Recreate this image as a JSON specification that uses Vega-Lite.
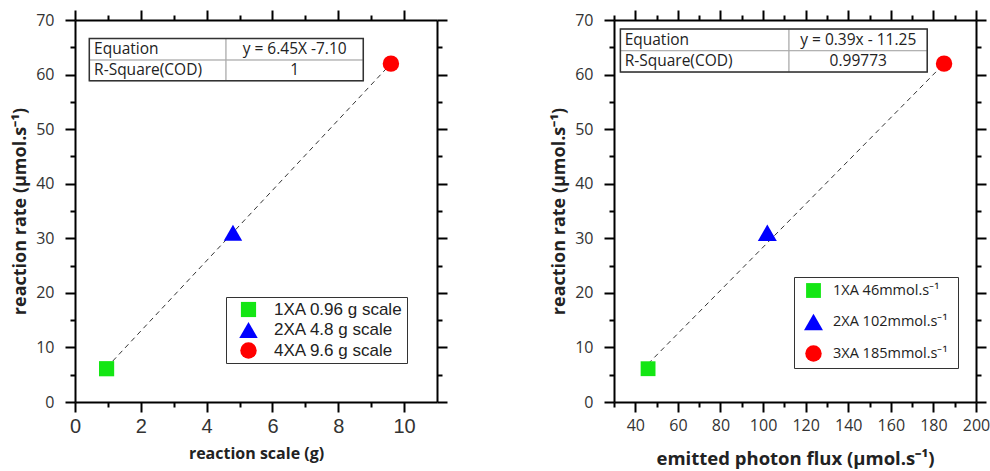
{
  "$schema": "https://vega.github.io/schema/vega-lite/v6.json",
  "background": "white",
  "padding": {"left": 11, "top": 9, "right": 5, "bottom": 5},
  "spacing": 177,
  "bounds": "flush",
  "config": {
    "view": {"stroke": null},
    "axis": {"grid": false, "domainColor": "#000", "domainWidth": 2, "tickColor": "#000", "tickWidth": 2, "labelColor": "#333", "titleColor": "#222", "labelFlush": false, "labelOverlap": false}
  },
  "datasets": {
    "ptsL": [
      {"x": 0.96, "y": 6.1, "label": "1XA 0.96 g scale"},
      {"x": 4.8, "y": 31, "label": "2XA 4.8 g scale"},
      {"x": 9.6, "y": 62, "label": "4XA 9.6 g scale"}
    ],
    "fitL": [{"x": 0.96, "y": 6.3}, {"x": 9.6, "y": 62}],
    "cellsL": [
      {"x0": 0.435, "x1": 4.59, "y0": 66.6, "y1": 62.65},
      {"x0": 4.59, "x1": 8.76, "y0": 66.6, "y1": 62.65},
      {"x0": 0.435, "x1": 4.59, "y0": 62.65, "y1": 58.85},
      {"x0": 4.59, "x1": 8.76, "y0": 62.65, "y1": 58.85}
    ],
    "borderL": [{"x0": 0.435, "x1": 8.76, "y0": 66.6, "y1": 58.85}],
    "keysL": [{"tx": 0.58, "ty": 64.64, "text": "Equation"}, {"tx": 0.58, "ty": 60.75, "text": "R-Square(COD)"}],
    "valsL": [{"tx": 6.675, "ty": 64.64, "text": "y = 6.45X -7.10"}, {"tx": 6.675, "ty": 60.75, "text": "1"}],
    "ptsR": [
      {"x": 46, "y": 6.1, "label": "1XA  46mmol.s⁻¹"},
      {"x": 102, "y": 31, "label": "2XA  102mmol.s⁻¹"},
      {"x": 185, "y": 62, "label": "3XA 185mmol.s⁻¹"}
    ],
    "fitR": [{"x": 46, "y": 7.0}, {"x": 185, "y": 62}],
    "cellsR": [
      {"x0": 33.0, "x1": 112.2, "y0": 68.34, "y1": 64.36},
      {"x0": 112.2, "x1": 177.1, "y0": 68.34, "y1": 64.36},
      {"x0": 33.0, "x1": 112.2, "y0": 64.36, "y1": 60.45},
      {"x0": 112.2, "x1": 177.1, "y0": 64.36, "y1": 60.45}
    ],
    "borderR": [{"x0": 33.0, "x1": 177.1, "y0": 68.34, "y1": 60.45}],
    "keysR": [{"tx": 35.0, "ty": 66.35, "text": "Equation"}, {"tx": 35.0, "ty": 62.4, "text": "R-Square(COD)"}],
    "valsR": [{"tx": 144.7, "ty": 66.35, "text": "y = 0.39x - 11.25"}, {"tx": 144.7, "ty": 62.4, "text": "0.99773"}]
  },
  "resolve": {"scale": {"color": "independent", "shape": "independent", "size": "independent"}, "legend": {"color": "independent", "shape": "independent", "size": "independent"}},
  "hconcat": [
    {
      "width": 362,
      "height": 382,
      "resolve": {"axis": {"x": "independent", "y": "independent"}},
      "layer": [
        {
          "data": {"name": "cellsL"},
          "mark": {"type": "rect", "fill": "white", "stroke": "#a8a8a8", "strokeWidth": 1},
          "encoding": {
            "x": {"field": "x0", "type": "quantitative", "scale": {"domain": [0, 11], "nice": false, "zero": false},
                  "axis": {"orient": "bottom", "values": [1, 3, 5, 7, 9], "tickSize": 5, "labels": false, "domain": false, "title": null}},
            "x2": {"field": "x1"},
            "y": {"field": "y0", "type": "quantitative", "scale": {"domain": [0, 70], "nice": false, "zero": false},
                  "axis": {"orient": "left", "values": [5, 15, 25, 35, 45, 55, 65], "tickSize": 5, "labels": false, "domain": false, "title": null}},
            "y2": {"field": "y1"}
          }
        },
        {
          "data": {"name": "borderL"},
          "mark": {"type": "rect", "fill": null, "fillOpacity": 0, "stroke": "#333", "strokeWidth": 1.5},
          "encoding": {
            "x": {"field": "x0", "type": "quantitative", "scale": {"domain": [0, 11], "nice": false, "zero": false},
                  "axis": {"orient": "top", "values": [1, 3, 5, 7, 9], "tickSize": 5, "labels": false, "domain": false, "title": null}},
            "x2": {"field": "x1"},
            "y": {"field": "y0", "type": "quantitative", "scale": {"domain": [0, 70], "nice": false, "zero": false},
                  "axis": {"orient": "right", "values": [5, 15, 25, 35, 45, 55, 65], "tickSize": 5, "labels": false, "domain": false, "title": null}},
            "y2": {"field": "y1"}
          }
        },
        {
          "data": {"name": "keysL"},
          "mark": {"type": "text", "align": "left", "baseline": "middle", "font": "Open Sans", "fontSize": 15.5, "color": "#222"},
          "encoding": {
            "x": {"field": "tx", "type": "quantitative", "axis": null},
            "y": {"field": "ty", "type": "quantitative", "axis": null},
            "text": {"field": "text"}
          }
        },
        {
          "data": {"name": "valsL"},
          "mark": {"type": "text", "align": "center", "baseline": "middle", "font": "Open Sans", "fontSize": 15.5, "color": "#222"},
          "encoding": {
            "x": {"field": "tx", "type": "quantitative", "axis": null},
            "y": {"field": "ty", "type": "quantitative", "axis": null},
            "text": {"field": "text"}
          }
        },
        {
          "data": {"name": "fitL"},
          "mark": {"type": "line", "color": "#333", "strokeWidth": 1, "strokeDash": [5, 4]},
          "encoding": {
            "x": {"field": "x", "type": "quantitative", "scale": {"domain": [0, 11], "nice": false, "zero": false},
                  "axis": {"orient": "bottom", "values": [0, 2, 4, 6, 8, 10], "tickSize": 10, "labelPadding": 4, "labelFont": "Liberation Sans", "labelFontSize": 20,
                           "title": "reaction scale (g)", "titleFont": "Open Sans", "titleFontSize": 16, "titleFontWeight": "bold", "titlePadding": 9}},
            "y": {"field": "y", "type": "quantitative", "scale": {"domain": [0, 70], "nice": false, "zero": false},
                  "axis": {"orient": "left", "values": [0, 10, 20, 30, 40, 50, 60, 70], "tickSize": 10, "labelPadding": 11, "labelFont": "Open Sans", "labelFontSize": 16,
                           "title": "reaction rate (μmol.s⁻¹)", "titleFont": "Open Sans", "titleFontSize": 18, "titleFontWeight": "bold", "titlePadding": 6}}
          }
        },
        {
          "data": {"name": "ptsL"},
          "mark": {"type": "point", "filled": true, "opacity": 1},
          "encoding": {
            "x": {"field": "x", "type": "quantitative", "scale": {"domain": [0, 11], "nice": false, "zero": false},
                  "axis": {"orient": "top", "values": [0, 2, 4, 6, 8, 10], "tickSize": 10, "labels": false, "title": null}},
            "y": {"field": "y", "type": "quantitative", "scale": {"domain": [0, 70], "nice": false, "zero": false},
                  "axis": {"orient": "right", "values": [0, 10, 20, 30, 40, 50, 60, 70], "tickSize": 10, "labels": false, "title": null}},
            "color": {"field": "label", "type": "nominal",
                      "scale": {"domain": ["1XA 0.96 g scale", "2XA 4.8 g scale", "4XA 9.6 g scale"], "range": ["#14e614", "#0000ff", "#ff0000"]},
                      "legend": {"title": null, "orient": "none", "legendX": 151, "legendY": 277, "strokeColor": "#333", "fillColor": "white", "padding": 4, "rowPadding": 2.5,
                                 "symbolOffset": 9, "labelOffset": 16, "labelFont": "Liberation Sans", "labelFontSize": 17, "labelColor": "#222", "symbolStrokeWidth": 0}},
            "shape": {"field": "label", "type": "nominal",
                      "scale": {"domain": ["1XA 0.96 g scale", "2XA 4.8 g scale", "4XA 9.6 g scale"], "range": ["square", "triangle-up", "circle"]},
                      "legend": {"title": null, "orient": "none", "legendX": 151, "legendY": 277, "strokeColor": "#333", "fillColor": "white", "padding": 4, "rowPadding": 2.5,
                                 "symbolOffset": 9, "labelOffset": 16, "labelFont": "Liberation Sans", "labelFontSize": 17, "labelColor": "#222", "symbolStrokeWidth": 0}},
            "size": {"field": "label", "type": "nominal",
                      "scale": {"type": "ordinal", "domain": ["1XA 0.96 g scale", "2XA 4.8 g scale", "4XA 9.6 g scale"], "range": [230, 340, 270]},
                      "legend": {"title": null, "orient": "none", "legendX": 151, "legendY": 277, "strokeColor": "#333", "fillColor": "white", "padding": 4, "rowPadding": 2.5,
                                 "symbolOffset": 9, "labelOffset": 16, "labelFont": "Liberation Sans", "labelFontSize": 17, "labelColor": "#222", "symbolStrokeWidth": 0}}
          }
        }
      ]
    },
    {
      "width": 362,
      "height": 382,
      "resolve": {"axis": {"x": "independent", "y": "independent"}},
      "layer": [
        {
          "data": {"name": "cellsR"},
          "mark": {"type": "rect", "fill": "white", "stroke": "#a8a8a8", "strokeWidth": 1},
          "encoding": {
            "x": {"field": "x0", "type": "quantitative", "scale": {"domain": [30, 200], "nice": false, "zero": false},
                  "axis": {"orient": "bottom", "values": [30, 50, 70, 90, 110, 130, 150, 170, 190], "tickSize": 5, "labels": false, "domain": false, "title": null}},
            "x2": {"field": "x1"},
            "y": {"field": "y0", "type": "quantitative", "scale": {"domain": [0, 70], "nice": false, "zero": false},
                  "axis": {"orient": "left", "values": [5, 15, 25, 35, 45, 55, 65], "tickSize": 5, "labels": false, "domain": false, "title": null}},
            "y2": {"field": "y1"}
          }
        },
        {
          "data": {"name": "borderR"},
          "mark": {"type": "rect", "fill": null, "fillOpacity": 0, "stroke": "#333", "strokeWidth": 1.5},
          "encoding": {
            "x": {"field": "x0", "type": "quantitative", "scale": {"domain": [30, 200], "nice": false, "zero": false},
                  "axis": {"orient": "top", "values": [30, 50, 70, 90, 110, 130, 150, 170, 190], "tickSize": 5, "labels": false, "domain": false, "title": null}},
            "x2": {"field": "x1"},
            "y": {"field": "y0", "type": "quantitative", "scale": {"domain": [0, 70], "nice": false, "zero": false},
                  "axis": {"orient": "right", "values": [5, 15, 25, 35, 45, 55, 65], "tickSize": 5, "labels": false, "domain": false, "title": null}},
            "y2": {"field": "y1"}
          }
        },
        {
          "data": {"name": "keysR"},
          "mark": {"type": "text", "align": "left", "baseline": "middle", "font": "Open Sans", "fontSize": 15.5, "color": "#222"},
          "encoding": {
            "x": {"field": "tx", "type": "quantitative", "axis": null},
            "y": {"field": "ty", "type": "quantitative", "axis": null},
            "text": {"field": "text"}
          }
        },
        {
          "data": {"name": "valsR"},
          "mark": {"type": "text", "align": "center", "baseline": "middle", "font": "Open Sans", "fontSize": 15.5, "color": "#222"},
          "encoding": {
            "x": {"field": "tx", "type": "quantitative", "axis": null},
            "y": {"field": "ty", "type": "quantitative", "axis": null},
            "text": {"field": "text"}
          }
        },
        {
          "data": {"name": "fitR"},
          "mark": {"type": "line", "color": "#333", "strokeWidth": 1, "strokeDash": [5, 4]},
          "encoding": {
            "x": {"field": "x", "type": "quantitative", "scale": {"domain": [30, 200], "nice": false, "zero": false},
                  "axis": {"orient": "bottom", "values": [40, 60, 80, 100, 120, 140, 160, 180, 200], "tickSize": 10, "labelPadding": 5, "labelFont": "Open Sans", "labelFontSize": 16,
                           "title": "emitted photon flux (μmol.s⁻¹)", "titleFont": "Open Sans", "titleFontSize": 18.5, "titleFontWeight": "bold", "titlePadding": 16}},
            "y": {"field": "y", "type": "quantitative", "scale": {"domain": [0, 70], "nice": false, "zero": false},
                  "axis": {"orient": "left", "values": [0, 10, 20, 30, 40, 50, 60, 70], "tickSize": 10, "labelPadding": 11, "labelFont": "Open Sans", "labelFontSize": 16,
                           "title": "reaction rate (μmol.s⁻¹)", "titleFont": "Open Sans", "titleFontSize": 18, "titleFontWeight": "bold", "titlePadding": 6}}
          }
        },
        {
          "data": {"name": "ptsR"},
          "mark": {"type": "point", "filled": true, "opacity": 1},
          "encoding": {
            "x": {"field": "x", "type": "quantitative", "scale": {"domain": [30, 200], "nice": false, "zero": false},
                  "axis": {"orient": "top", "values": [40, 60, 80, 100, 120, 140, 160, 180, 200], "tickSize": 10, "labels": false, "title": null}},
            "y": {"field": "y", "type": "quantitative", "scale": {"domain": [0, 70], "nice": false, "zero": false},
                  "axis": {"orient": "right", "values": [0, 10, 20, 30, 40, 50, 60, 70], "tickSize": 10, "labels": false, "title": null}},
            "color": {"field": "label", "type": "nominal",
                      "scale": {"domain": ["1XA  46mmol.s⁻¹", "2XA  102mmol.s⁻¹", "3XA 185mmol.s⁻¹"], "range": ["#14e614", "#0000ff", "#ff0000"]},
                      "legend": {"title": null, "orient": "none", "legendX": 180, "legendY": 257, "strokeColor": "#333", "fillColor": "white", "padding": 6, "rowPadding": 14.5,
                                 "symbolOffset": 4, "labelOffset": 10, "labelFont": "Open Sans", "labelFontSize": 14.5, "labelColor": "#222", "symbolStrokeWidth": 0}},
            "shape": {"field": "label", "type": "nominal",
                      "scale": {"domain": ["1XA  46mmol.s⁻¹", "2XA  102mmol.s⁻¹", "3XA 185mmol.s⁻¹"], "range": ["square", "triangle-up", "circle"]},
                      "legend": {"title": null, "orient": "none", "legendX": 180, "legendY": 257, "strokeColor": "#333", "fillColor": "white", "padding": 6, "rowPadding": 14.5,
                                 "symbolOffset": 4, "labelOffset": 10, "labelFont": "Open Sans", "labelFontSize": 14.5, "labelColor": "#222", "symbolStrokeWidth": 0}},
            "size": {"field": "label", "type": "nominal",
                      "scale": {"type": "ordinal", "domain": ["1XA  46mmol.s⁻¹", "2XA  102mmol.s⁻¹", "3XA 185mmol.s⁻¹"], "range": [220, 360, 270]},
                      "legend": {"title": null, "orient": "none", "legendX": 180, "legendY": 257, "strokeColor": "#333", "fillColor": "white", "padding": 6, "rowPadding": 14.5,
                                 "symbolOffset": 4, "labelOffset": 10, "labelFont": "Open Sans", "labelFontSize": 14.5, "labelColor": "#222", "symbolStrokeWidth": 0}}
          }
        }
      ]
    }
  ]
}
